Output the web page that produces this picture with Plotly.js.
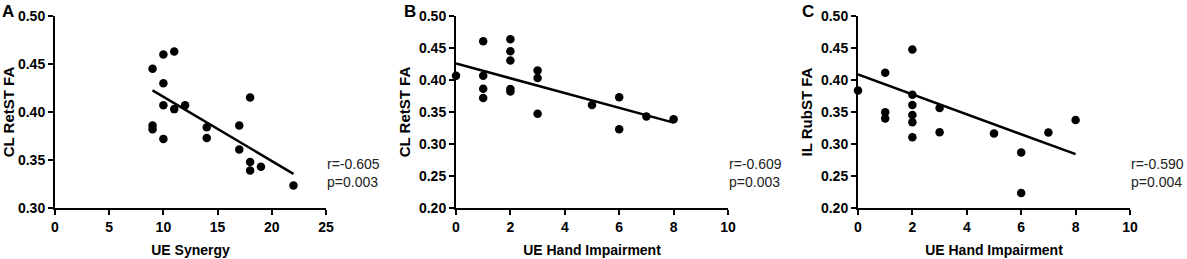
<!DOCTYPE html>
<html>
<head>
<meta charset="utf-8">
<script src="https://cdn.plot.ly/plotly-3.0.1.min.js"></script>
<style>html,body{margin:0;padding:0;background:#fff}#chart{width:1187px;height:259px}</style>
</head>
<body>
<div id="chart"></div>
<script>
// Panel A: UE Synergy vs CL RetST FA
const synergyA = [9, 10, 11, 10, 10, 11, 12, 9, 9, 10, 14, 14, 17, 17, 18, 18, 18, 19, 22];
const faA      = [0.445, 0.460, 0.463, 0.430, 0.407, 0.403, 0.407, 0.386, 0.382, 0.372, 0.384, 0.373, 0.386, 0.361, 0.415, 0.348, 0.339, 0.343, 0.3235];
const fitAx = [9, 22];
const fitAy = [0.4225, 0.3356];

// Panel B: UE Hand Impairment vs CL RetST FA
const handB = [0, 1, 1, 1, 1, 2, 2, 2, 2, 2, 3, 3, 3, 5, 6, 6, 7, 8];
const faB   = [0.4066, 0.4606, 0.4066, 0.3863, 0.3718, 0.4637, 0.445, 0.4304, 0.386, 0.382, 0.415, 0.403, 0.3474, 0.361, 0.373, 0.323, 0.343, 0.3386];
const fitBx = [0, 8];
const fitBy = [0.4258, 0.3334];

// Panel C: UE Hand Impairment vs IL RubST FA
const handC = [0, 1, 1, 1, 2, 2, 2, 2, 2, 2, 3, 3, 5, 6, 6, 7, 8];
const faC   = [0.3837, 0.4112, 0.3495, 0.340, 0.4476, 0.377, 0.361, 0.3453, 0.334, 0.3106, 0.3562, 0.3183, 0.3163, 0.2867, 0.2234, 0.3178, 0.3375];
const fitCx = [0, 8];
const fitCy = [0.4087, 0.2841];

const panelLetters = ['A', 'B', 'C'];
const xTitles = ['UE Synergy', 'UE Hand Impairment', 'UE Hand Impairment'];
const yTitles = ['CL RetST FA', 'CL RetST FA', 'IL RubST FA'];
const stats = ['r=-0.605<br>p=0.003', 'r=-0.609<br>p=0.003', 'r=-0.590<br>p=0.004'];

const FONT = 'Arial, "Liberation Sans", Helvetica, sans-serif';
const W = 1187, H = 259;
const xDomPx = [[55, 326], [456, 728], [858, 1130]];
const yDom = [(H - 208) / H, (H - 16) / H];

const pts = [[synergyA, faA], [handB, faB], [handC, faC]];
const fits = [[fitAx, fitAy], [fitBx, fitBy], [fitCx, fitCy]];

const traces = [];
pts.forEach((p, i) => {
  const ax = i === 0 ? '' : String(i + 1);
  traces.push({x: p[0], y: p[1], mode: 'markers', type: 'scatter', xaxis: 'x' + ax, yaxis: 'y' + ax,
    marker: {color: '#000', size: 8.5}, cliponaxis: false, showlegend: false, hoverinfo: 'x+y'});
  traces.push({x: fits[i][0], y: fits[i][1], mode: 'lines', type: 'scatter', xaxis: 'x' + ax, yaxis: 'y' + ax,
    line: {color: '#000', width: 2.5}, cliponaxis: false, showlegend: false, hoverinfo: 'skip'});
});

const layout = {
  width: W, height: H,
  margin: {l: 0, r: 0, t: 0, b: 0},
  paper_bgcolor: '#fff', plot_bgcolor: '#fff',
  font: {family: FONT, color: '#000'},
  showlegend: false,
  annotations: []
};

const xRanges = [[0, 25], [0, 10], [0, 10]];
const xDtick = [5, 2, 2];
const yRanges = [[0.30, 0.50], [0.20, 0.50], [0.20, 0.50]];
const letterPx = [0, 402, 800];

for (let i = 0; i < 3; i++) {
  const sfx = i === 0 ? '' : String(i + 1);
  const common = {
    showline: true, linecolor: '#000', linewidth: 2,
    ticks: 'outside', ticklen: 5, tickwidth: 2, tickcolor: '#000',
    showgrid: false, zeroline: false, fixedrange: true,
    tickfont: {family: FONT, size: 14, color: '#000', weight: 'bold'}
  };
  layout['xaxis' + sfx] = Object.assign({}, common, {
    domain: [xDomPx[i][0] / W, xDomPx[i][1] / W],
    range: xRanges[i], dtick: xDtick[i], tick0: 0,
    anchor: 'y' + sfx, ticklabelstandoff: 0,
    title: {text: xTitles[i], font: {family: FONT, size: 14, color: '#000', weight: 'bold'}, standoff: 11}
  });
  layout['yaxis' + sfx] = Object.assign({}, common, {
    domain: yDom,
    range: yRanges[i], dtick: 0.05, tick0: 0, tickformat: '.2f',
    anchor: 'x' + sfx,
    title: {text: yTitles[i], font: {family: FONT, size: 15, color: '#000', weight: 'bold'}, standoff: 5}
  });
  layout.annotations.push({
    text: panelLetters[i], xref: 'paper', yref: 'paper',
    x: letterPx[i] / W, y: 1, xanchor: 'left', yanchor: 'top',
    showarrow: false, font: {family: FONT, size: 17, color: '#000', weight: 'bold'}
  });
  layout.annotations.push({
    text: stats[i], xref: 'paper', yref: 'paper',
    x: (xDomPx[i][1] - 1) / W, y: (H - 172.5) / H, xanchor: 'left', yanchor: 'middle', align: 'left',
    showarrow: false, font: {family: FONT, size: 14, color: '#222'}
  });
}

Plotly.newPlot('chart', traces, layout, {staticPlot: true, displayModeBar: false});
</script>
</body>
</html>
